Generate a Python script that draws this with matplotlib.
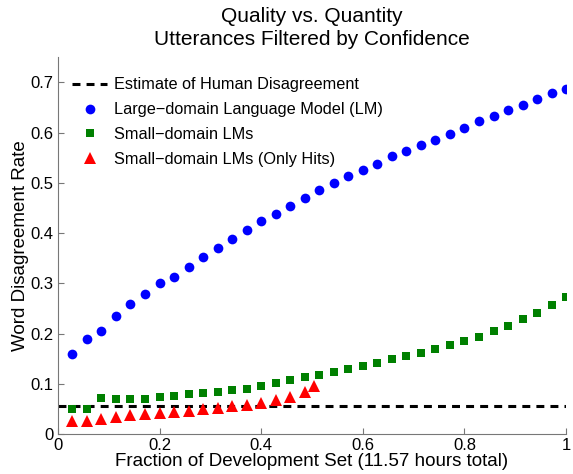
import numpy as np
import matplotlib
matplotlib.use("Agg")
import matplotlib.pyplot as plt

plt.rcParams["font.family"] = ["Liberation Sans", "DejaVu Sans"]

# === Data ===
n_points = 35
fraction = np.arange(1, n_points + 1) / n_points

human_disagreement = 0.056

large_lm = [0.159, 0.189, 0.205, 0.234, 0.258, 0.279, 0.301, 0.313, 0.333, 0.352,
            0.371, 0.388, 0.406, 0.423, 0.438, 0.454, 0.470, 0.485, 0.499, 0.513,
            0.526, 0.538, 0.553, 0.564, 0.576, 0.586, 0.598, 0.610, 0.622, 0.633,
            0.644, 0.655, 0.667, 0.678, 0.687]

small_lm = [0.050, 0.050, 0.071, 0.069, 0.070, 0.070, 0.073, 0.076, 0.079, 0.082,
            0.084, 0.087, 0.090, 0.096, 0.102, 0.107, 0.113, 0.118, 0.124, 0.129,
            0.135, 0.141, 0.149, 0.155, 0.162, 0.169, 0.177, 0.185, 0.194, 0.204,
            0.215, 0.228, 0.241, 0.257, 0.272]

hits_x = list(fraction[:17]) + [0.503]
hits_y = [0.026, 0.026, 0.030, 0.034, 0.038, 0.040, 0.042, 0.044, 0.046, 0.049,
          0.052, 0.056, 0.058, 0.062, 0.067, 0.074, 0.084, 0.096]

# === Plot ===
fig = plt.figure(figsize=(5.73, 4.74), dpi=100)
ax = fig.add_axes([0.101, 0.0844, 0.887, 0.795])

ax.plot([0, 1], [human_disagreement, human_disagreement], color="black", linewidth=2.2,
        dashes=(2.6, 2.0), label="Estimate of Human Disagreement")
ax.plot(fraction, large_lm, "o", color="blue", markersize=7, markeredgewidth=0,
        label="Large\u2212domain Language Model (LM)")
ax.plot(fraction, small_lm, "s", color="green", markersize=6, markeredgewidth=0,
        label="Small\u2212domain LMs")
ax.plot(hits_x, hits_y, "^", color="red", markersize=8, markeredgewidth=0,
        label="Small\u2212domain LMs (Only Hits)")

ax.set_xlim(0, 1)
ax.set_ylim(0, 0.75)
ax.set_xticks([0, 0.2, 0.4, 0.6, 0.8, 1])
ax.set_xticklabels(["0", "0.2", "0.4", "0.6", "0.8", "1"])
ax.set_yticks([0, 0.1, 0.2, 0.3, 0.4, 0.5, 0.6, 0.7])
ax.set_yticklabels(["0", "0.1", "0.2", "0.3", "0.4", "0.5", "0.6", "0.7"])

for side in ["top", "right"]:
    ax.spines[side].set_visible(False)
for side in ["left", "bottom"]:
    ax.spines[side].set_color("#777777")
ax.tick_params(direction="in", length=4, color="#777777", labelsize=12, pad=3)

ax.set_xlabel("Fraction of Development Set (11.57 hours total)", fontsize=13.5, labelpad=0)
ax.set_ylabel("Word Disagreement Rate", fontsize=13.5, labelpad=1)
ax.set_title("Quality vs. Quantity\nUtterances Filtered by Confidence", fontsize=15, pad=9,
             linespacing=1.25)

ax.legend(loc="upper left", bbox_to_anchor=(0.0, 0.985), frameon=False, fontsize=11.7,
          handlelength=2.1, handletextpad=0.45, labelspacing=0.6)

fig.savefig("out.png", dpi=100)
